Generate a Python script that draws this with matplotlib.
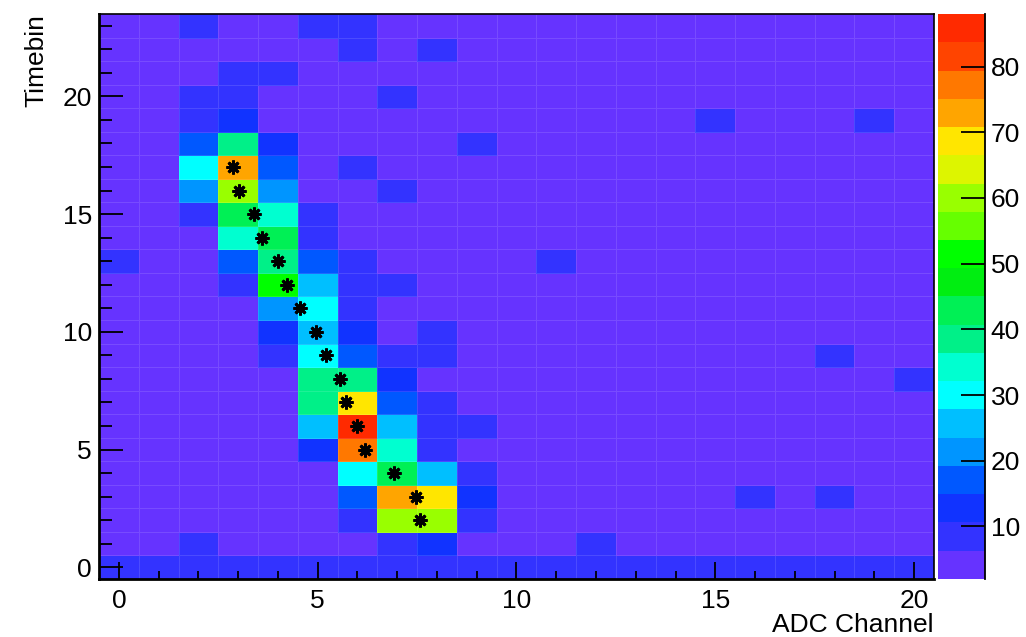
import numpy as np
import matplotlib
matplotlib.use("Agg")
import matplotlib.pyplot as plt
from matplotlib.colors import ListedColormap, BoundaryNorm

plt.rcParams['font.family'] = ['Liberation Sans', 'DejaVu Sans']

# ADC channel x timebin counts, written top row (timebin 23) first
counts_top_down = [
    [4, 4, 8, 4, 4, 8, 8, 4, 4, 4, 4, 4, 4, 4, 4, 4, 4, 4, 4, 4, 4],   # 23
    [4, 4, 4, 4, 4, 4, 8, 4, 8, 4, 4, 4, 4, 4, 4, 4, 4, 4, 4, 4, 4],   # 22
    [4, 4, 4, 8, 8, 4, 4, 4, 4, 4, 4, 4, 4, 4, 4, 4, 4, 4, 4, 4, 4],   # 21
    [4, 4, 8, 8, 4, 4, 4, 8, 4, 4, 4, 4, 4, 4, 4, 4, 4, 4, 4, 4, 4],   # 20
    [4, 4, 8, 13, 4, 4, 4, 4, 4, 4, 4, 4, 4, 4, 4, 8, 4, 4, 4, 8, 4],  # 19
    [4, 4, 17, 38, 13, 4, 4, 4, 4, 8, 4, 4, 4, 4, 4, 4, 4, 4, 4, 4, 4],  # 18
    [4, 4, 30, 73, 17, 4, 8, 4, 4, 4, 4, 4, 4, 4, 4, 4, 4, 4, 4, 4, 4],  # 17
    [4, 4, 21, 60, 21, 4, 4, 8, 4, 4, 4, 4, 4, 4, 4, 4, 4, 4, 4, 4, 4],  # 16
    [4, 4, 8, 43, 34, 8, 4, 4, 4, 4, 4, 4, 4, 4, 4, 4, 4, 4, 4, 4, 4],   # 15
    [4, 4, 4, 34, 43, 8, 4, 4, 4, 4, 4, 4, 4, 4, 4, 4, 4, 4, 4, 4, 4],   # 14
    [8, 4, 4, 17, 38, 17, 8, 4, 4, 4, 4, 8, 4, 4, 4, 4, 4, 4, 4, 4, 4],  # 13
    [4, 4, 4, 8, 51, 26, 8, 8, 4, 4, 4, 4, 4, 4, 4, 4, 4, 4, 4, 4, 4],   # 12
    [4, 4, 4, 4, 21, 30, 8, 4, 4, 4, 4, 4, 4, 4, 4, 4, 4, 4, 4, 4, 4],   # 11
    [4, 4, 4, 4, 13, 26, 13, 4, 8, 4, 4, 4, 4, 4, 4, 4, 4, 4, 4, 4, 4],  # 10
    [4, 4, 4, 4, 8, 30, 17, 8, 8, 4, 4, 4, 4, 4, 4, 4, 4, 4, 8, 4, 4],   # 9
    [4, 4, 4, 4, 4, 38, 38, 13, 4, 4, 4, 4, 4, 4, 4, 4, 4, 4, 4, 4, 8],  # 8
    [4, 4, 4, 4, 4, 38, 69, 17, 8, 4, 4, 4, 4, 4, 4, 4, 4, 4, 4, 4, 4],  # 7
    [4, 4, 4, 4, 4, 26, 86, 26, 8, 8, 4, 4, 4, 4, 4, 4, 4, 4, 4, 4, 4],  # 6
    [4, 4, 4, 4, 4, 13, 77, 34, 8, 4, 4, 4, 4, 4, 4, 4, 4, 4, 4, 4, 4],  # 5
    [4, 4, 4, 4, 4, 4, 30, 43, 26, 8, 4, 4, 4, 4, 4, 4, 4, 4, 4, 4, 4],  # 4
    [4, 4, 4, 4, 4, 4, 17, 73, 69, 13, 4, 4, 4, 4, 4, 4, 8, 4, 8, 4, 4], # 3
    [4, 4, 4, 4, 4, 4, 8, 60, 60, 8, 4, 4, 4, 4, 4, 4, 4, 4, 4, 4, 4],  # 2
    [4, 4, 8, 4, 4, 4, 4, 8, 13, 4, 4, 4, 8, 4, 4, 4, 4, 4, 4, 4, 4],   # 1
    [8, 8, 8, 8, 8, 8, 8, 8, 8, 8, 8, 8, 8, 8, 8, 8, 8, 8, 8, 8, 8],   # 0
]

# fitted hit position per timebin
hit_x = [2.86, 3.02, 3.40, 3.59, 3.99, 4.22, 4.55, 4.97, 5.21, 5.55, 5.72, 5.98, 6.18, 6.91, 7.47, 7.57]
hit_y = [17, 16, 15, 14, 13, 12, 11, 10, 9, 8, 7, 6, 5, 4, 3, 2]

z_min, z_max = 2, 88
n_levels = 20

# palette, low -> high
palette = ['#6633ff', '#3333ff', '#1133ff', '#0058ff', '#0095ff',
           '#00bfff', '#00ffff', '#00ffd0', '#00f088', '#00f055',
           '#00ee11', '#00ff00', '#66ff00', '#99ff00', '#ddf500',
           '#ffe600', '#ffa500', '#ff7800', '#ff4400', '#ff2a00']

counts = np.array(counts_top_down[::-1])
nx = counts.shape[1]
ny = counts.shape[0]
x_edges = np.arange(nx + 1) - 0.5
y_edges = np.arange(ny + 1) - 0.5

cmap = ListedColormap(palette)
norm = BoundaryNorm(np.linspace(z_min, z_max, n_levels + 1), cmap.N)

fig = plt.figure(figsize=(10.26, 6.37), dpi=100)
ax = fig.add_axes([0.0965, 0.0911, 0.8138, 0.8869])
cax = fig.add_axes([0.9142, 0.0911, 0.0458, 0.8869])

mesh = ax.pcolormesh(x_edges, y_edges, counts, cmap=cmap, norm=norm,
                     edgecolors=(1, 1, 1, 0.12), linewidth=0.6)
ax.plot(hit_x, hit_y, linestyle='none', marker=(8, 2, 0), markersize=10,
        markeredgewidth=2.0, color='black')

ax.set_xlim(-0.5, 20.5)
ax.set_ylim(-0.5, 23.5)
ax.set_xticks([0, 5, 10, 15, 20])
ax.set_xticks(np.arange(0, 21), minor=True)
ax.set_yticks([0, 5, 10, 15, 20])
ax.set_yticks(np.arange(0, 24), minor=True)
ax.tick_params(axis='x', which='major', direction='in', length=12, width=1.3,
               labelsize=19, pad=7)
ax.tick_params(axis='x', which='minor', direction='in', length=6, width=1.3)
ax.tick_params(axis='y', which='major', direction='in', length=17, width=1.3,
               labelsize=19, pad=5)
ax.tick_params(axis='y', which='minor', direction='in', length=9, width=1.3)
for s in ax.spines.values():
    s.set_linewidth(1.2)
ax.spines['bottom'].set_linewidth(2)
ax.spines['left'].set_linewidth(2)

ax.set_xlabel('ADC Channel', loc='right', fontsize=19, labelpad=0)
ax.set_ylabel('Timebin', loc='top', fontsize=19, labelpad=10)

cb = fig.colorbar(mesh, cax=cax, ticks=[10, 20, 30, 40, 50, 60, 70, 80])
cb.outline.set_visible(False)
cax.minorticks_off()
cax.spines['right'].set_visible(True)
cax.spines['right'].set_linewidth(1.3)
cax.tick_params(direction='in', length=17, width=1.3, labelsize=19, pad=4)

fig.savefig('out.png', dpi=100)
